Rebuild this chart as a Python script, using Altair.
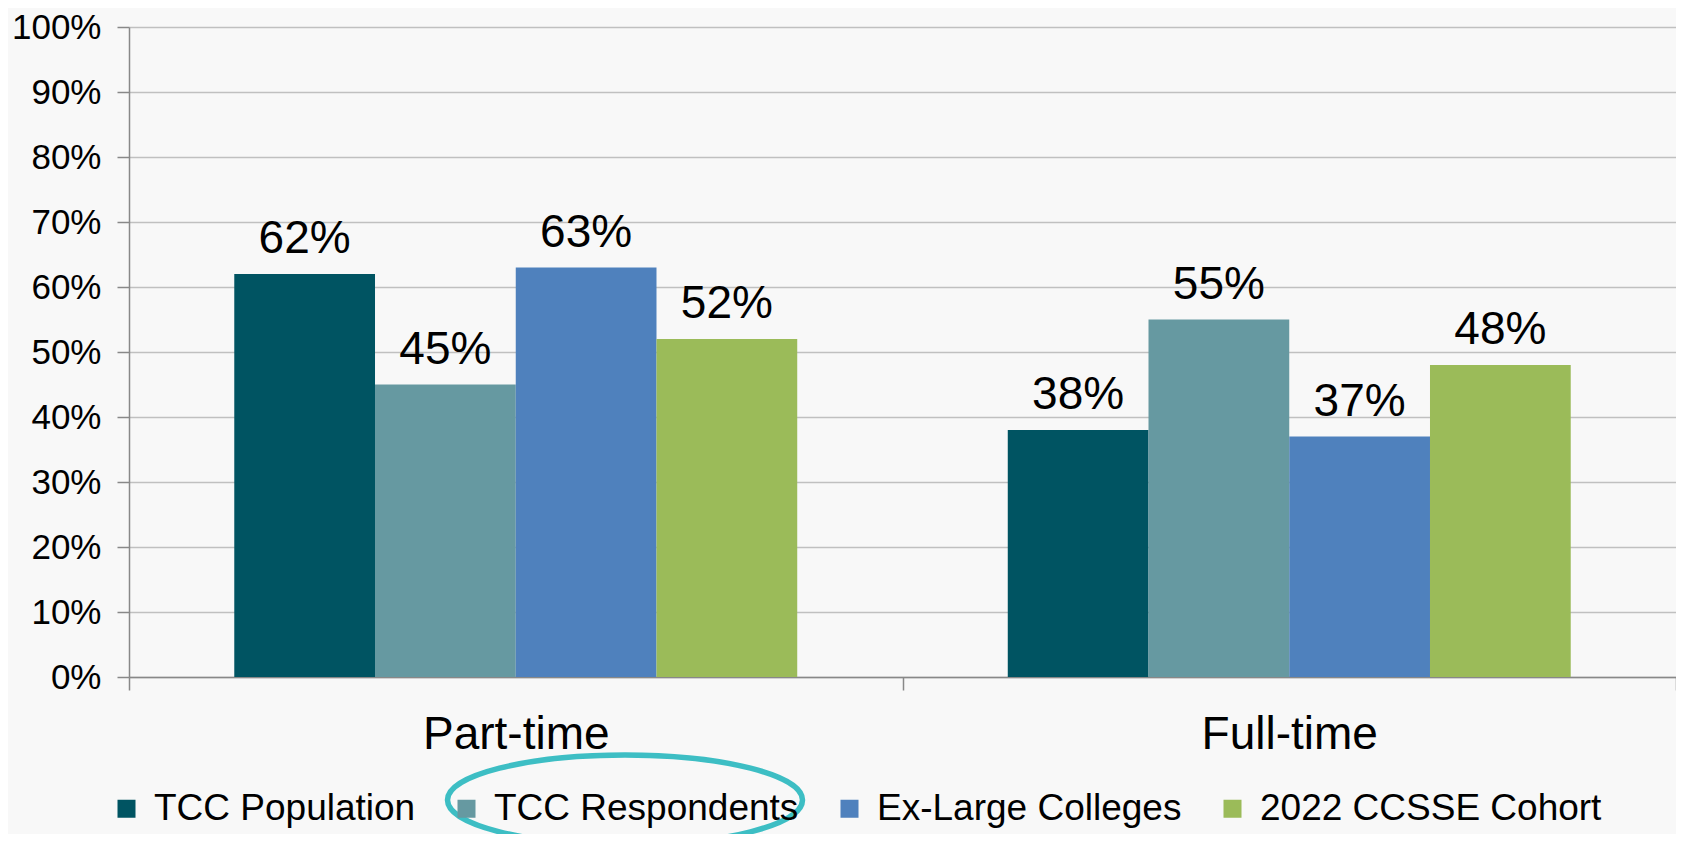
import altair as alt
import pandas as pd

# ---- data ----
enrollment = ["Part-time", "Full-time"]
series = ["TCC Population", "TCC Respondents", "Ex-Large Colleges", "2022 CCSSE Cohort"]
tcc_population = [62, 38]
tcc_respondents = [45, 55]
ex_large = [63, 37]
ccsse_cohort = [52, 48]
colors = ["#005462", "#6699A1", "#4F81BD", "#9BBB59"]
y_ticks = [0, 10, 20, 30, 40, 50, 60, 70, 80, 90, 100]
highlighted = ["TCC Respondents"]

rows = []
for s, vals in zip(series, [tcc_population, tcc_respondents, ex_large, ccsse_cohort]):
    for e, v in zip(enrollment, vals):
        rows.append({"enrollment": e, "series": s, "value": v, "label": f"{v}%"})
df = pd.DataFrame(rows)

FONT = "Liberation Sans"

x_enc = alt.X(
    "enrollment:N",
    sort=enrollment,
    scale=alt.Scale(paddingInner=0, paddingOuter=0),
    axis=alt.Axis(
        title=None, labelAngle=0, labelFontSize=46, labelColor="#000000",
        labelFont=FONT, tickBand="extent", tickSize=13, tickColor="#888888",
        tickWidth=1.5, domainColor="#888888", domainWidth=1.5,
        labelPadding=22, grid=False, labelLimit=600,
    ),
)
xoff_enc = alt.XOffset(
    "series:N", sort=series,
    scale=alt.Scale(paddingInner=0, paddingOuter=0.748),
)
y_enc = alt.Y(
    "value:Q",
    scale=alt.Scale(domain=[0, 100], nice=False),
    axis=alt.Axis(
        title=None, values=y_ticks, labelExpr="datum.value + '%'",
        labelFontSize=35, labelFont=FONT, labelColor="#000000",
        tickSize=12, tickColor="#888888", tickWidth=1.5,
        domainColor="#888888", domainWidth=1.5, labelPadding=16,
        gridColor="#C0C0C0", gridWidth=1.3,
    ),
)

bars = alt.Chart(df).mark_bar(opacity=1).encode(
    x=x_enc,
    xOffset=xoff_enc,
    y=y_enc,
    color=alt.Color(
        "series:N",
        sort=series,
        scale=alt.Scale(domain=series, range=colors),
        legend=alt.Legend(
            title=None, orient="none", direction="horizontal", columns=4,
            legendX=-21, legendY=763, symbolType="square", symbolSize=324,
            symbolStrokeWidth=0, symbolOpacity=1, labelFontSize=37,
            labelFont=FONT, labelColor="#000000", labelOffset=9,
            columnPadding=32, padding=0, labelLimit=600,
        ),
    ),
)

labels = alt.Chart(df).mark_text(
    baseline="alphabetic", dy=-21, fontSize=46, font=FONT, color="#000000"
).encode(
    x=alt.X("enrollment:N", sort=enrollment),
    xOffset=alt.XOffset("series:N", sort=series),
    y="value:Q",
    text="label:N",
)

k = 0.2535
c = 0.5523
path = (
    f"M 1 0 C 1 {k*c:.4f} {c} {k} 0 {k} "
    f"C {-c} {k} -1 {k*c:.4f} -1 0 "
    f"C -1 {-k*c:.4f} {-c} {-k} 0 {-k} "
    f"C {c} {-k} 1 {-k*c:.4f} 1 0 Z"
)
ellipse = alt.Chart(pd.DataFrame({"series": highlighted})).mark_point(
    shape=path, filled=False, size=355 * 355, stroke="#3DBEC4",
    strokeWidth=5.5, opacity=1,
).encode(
    x=alt.value(496),
    y=alt.value(773),
)

chart = alt.layer(bars, labels, ellipse).properties(
    width=1547, height=650,
    autosize=alt.AutoSizeParams(type="none"),
    padding={"left": 121, "top": 19, "right": 0, "bottom": 157},
    background="#F8F8F8",
).configure_view(stroke=None).configure_axis(labelFont=FONT)

chart.save("out.html", embed_options={"renderer": "svg", "actions": False})
